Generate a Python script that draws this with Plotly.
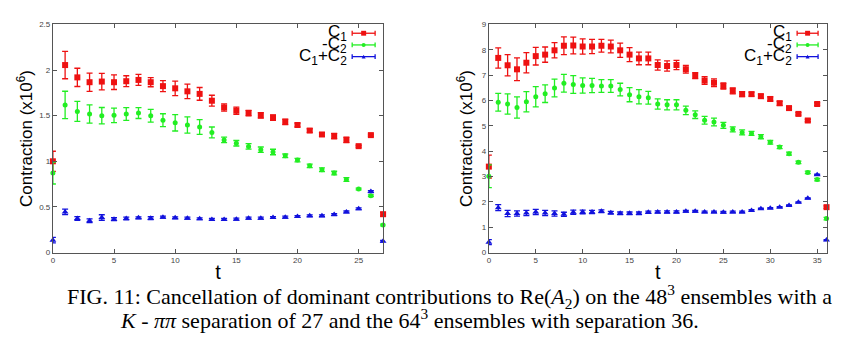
import plotly.graph_objects as go

# ---------------- data ----------------
t_left = list(range(28))
c1_left = [1.00, 2.055, 1.92, 1.867, 1.874, 1.867, 1.878, 1.892, 1.867, 1.824, 1.80, 1.767, 1.739, 1.664,
           1.59, 1.554, 1.529, 1.504, 1.479, 1.433, 1.398, 1.337, 1.294, 1.277, 1.234, 1.166, 1.287, 0.42]
c1_left_err = [0.11, 0.15, 0.10, 0.10, 0.09, 0.08, 0.06, 0.06, 0.05, 0.06, 0.08, 0.08, 0.07, 0.06,
               0.04, 0.04, 0.03, 0.03, 0.03, 0.03, 0.02, 0.02, 0.02, 0.03, 0.03, 0.01, 0.01, 0.02]
mc2_left = [0.871, 1.618, 1.547, 1.519, 1.50, 1.504, 1.519, 1.529, 1.50, 1.451, 1.422, 1.398, 1.376, 1.316,
            1.234, 1.198, 1.163, 1.127, 1.102, 1.06, 1.013, 0.95, 0.907, 0.871, 0.80, 0.697, 0.622, 0.302]
mc2_left_err = [0.12, 0.15, 0.11, 0.10, 0.09, 0.08, 0.07, 0.06, 0.07, 0.07, 0.09, 0.09, 0.08, 0.06,
                0.03, 0.03, 0.03, 0.03, 0.03, 0.02, 0.02, 0.02, 0.02, 0.02, 0.02, 0.01, 0.01, 0.01]
sum_left = [0.135, 0.445, 0.373, 0.349, 0.384, 0.366, 0.373, 0.38, 0.377, 0.388, 0.38, 0.377, 0.37, 0.363,
            0.363, 0.366, 0.377, 0.377, 0.384, 0.388, 0.395, 0.402, 0.402, 0.416, 0.445, 0.48, 0.668, 0.124]
sum_left_err = [0.03, 0.03, 0.02, 0.02, 0.03, 0.015, 0.015, 0.01, 0.015, 0.01, 0.01, 0.01, 0.01, 0.01,
                0.01, 0.01, 0.01, 0.01, 0.01, 0.01, 0.01, 0.01, 0.01, 0.01, 0.01, 0.01, 0.01, 0.01]

t_right = list(range(37))
c1_right = [3.39, 7.68, 7.39, 7.23, 7.49, 7.75, 7.81, 7.98, 8.16, 8.17, 8.13, 8.13, 8.16, 8.13, 7.98,
            7.81, 7.66, 7.66, 7.40, 7.36, 7.40, 7.23, 6.98, 6.79, 6.70, 6.57, 6.38, 6.25, 6.25, 6.17,
            6.06, 5.89, 5.70, 5.47, 5.21, 5.86, 1.79]
c1_right_err = [0.45, 0.40, 0.42, 0.45, 0.40, 0.35, 0.30, 0.30, 0.35, 0.33, 0.30, 0.28, 0.25, 0.25, 0.28,
                0.28, 0.25, 0.25, 0.20, 0.20, 0.18, 0.15, 0.12, 0.15, 0.15, 0.12, 0.12, 0.10, 0.08, 0.08,
                0.08, 0.08, 0.06, 0.05, 0.05, 0.05, 0.05]
mc2_right = [3.01, 5.93, 5.86, 5.72, 5.95, 6.15, 6.27, 6.49, 6.68, 6.63, 6.59, 6.59, 6.57, 6.57, 6.43,
             6.23, 6.15, 6.11, 5.86, 5.83, 5.83, 5.61, 5.44, 5.22, 5.15, 5.02, 4.86, 4.74, 4.70, 4.57,
             4.35, 4.16, 3.90, 3.56, 3.16, 2.88, 1.34]
mc2_right_err = [0.45, 0.35, 0.40, 0.42, 0.40, 0.40, 0.35, 0.35, 0.35, 0.35, 0.30, 0.28, 0.25, 0.25, 0.25,
                 0.28, 0.28, 0.25, 0.20, 0.20, 0.20, 0.17, 0.15, 0.15, 0.15, 0.12, 0.10, 0.10, 0.08, 0.08,
                 0.07, 0.06, 0.06, 0.05, 0.05, 0.05, 0.05]
sum_right = [0.41, 1.77, 1.54, 1.54, 1.56, 1.60, 1.56, 1.54, 1.51, 1.59, 1.60, 1.60, 1.63, 1.57, 1.55,
             1.55, 1.55, 1.59, 1.60, 1.60, 1.60, 1.63, 1.63, 1.60, 1.60, 1.59, 1.60, 1.60, 1.66, 1.73,
             1.75, 1.79, 1.86, 1.98, 2.14, 3.07, 0.49]
sum_right_err = [0.10, 0.12, 0.12, 0.10, 0.10, 0.10, 0.10, 0.10, 0.08, 0.08, 0.07, 0.06, 0.05, 0.05, 0.05,
                 0.05, 0.05, 0.04, 0.04, 0.04, 0.04, 0.03, 0.03, 0.03, 0.03, 0.03, 0.03, 0.03, 0.03, 0.02,
                 0.02, 0.02, 0.02, 0.02, 0.02, 0.02, 0.02]

series_names = ["C<sub>1</sub>", "-C<sub>2</sub>", "C<sub>1</sub>+C<sub>2</sub>"]
left_yticks = [0, 0.5, 1, 1.5, 2, 2.5]
right_yticks = [0, 1, 2, 3, 4, 5, 6, 7, 8, 9]
left_xticks = [0, 5, 10, 15, 20, 25]
right_xticks = [0, 5, 10, 15, 20, 25, 30, 35]
y_title = "Contraction (x10<sup>6</sup>)"
caption1 = "FIG. 11: Cancellation of dominant contributions to Re(<i>A</i><sub>2</sub>) on the 48<sup>3</sup> ensembles with a"
caption2 = "<i>K</i> - <i>ππ</i> separation of 27 and the 64<sup>3</sup> ensembles with separation 36."

# ---------------- style ----------------
W, H = 850, 354
colors = ["#ee1111", "#22ee22", "#1111dd"]
symbols = ["square", "circle", "triangle-up"]
sizes = [6, 5, 6]


def px(x):
    return x / W


def py(y):
    return 1 - y / H


fig = go.Figure()

panels = [
    dict(xa="x", ya="y", t=t_left, vals=[c1_left, mc2_left, sum_left],
         errs=[c1_left_err, mc2_left_err, sum_left_err]),
    dict(xa="x2", ya="y2", t=t_right, vals=[c1_right, mc2_right, sum_right],
         errs=[c1_right_err, mc2_right_err, sum_right_err]),
]

for p in panels:
    for i in range(3):
        fig.add_trace(go.Scatter(
            x=p["t"], y=p["vals"][i], xaxis=p["xa"], yaxis=p["ya"],
            mode="markers", showlegend=False, cliponaxis=False,
            marker=dict(symbol=symbols[i], size=sizes[i], color=colors[i]),
            error_y=dict(type="data", array=p["errs"][i], width=3, thickness=1.3, color=colors[i]),
        ))

axis_common = dict(showline=True, linecolor="#555", linewidth=1, mirror="ticks",
                   ticks="inside", ticklen=4, tickcolor="#555", showgrid=False, zeroline=False,
                   tickfont=dict(family="Liberation Sans", size=8, color="#444"))

ydom = [py(255), py(21)]
fig.update_layout(
    width=W, height=H, autosize=False,
    margin=dict(l=0, r=0, t=0, b=0),
    paper_bgcolor="white", plot_bgcolor="white",
    xaxis=dict(domain=[px(51), px(382)], range=[0, 27], tickvals=left_xticks, anchor="y",
               title=dict(text="t", font=dict(family="Liberation Sans", size=20, color="black"), standoff=0),
               **axis_common),
    yaxis=dict(domain=ydom, range=[0, 2.5], tickvals=left_yticks, anchor="x",
               title=dict(text=y_title, font=dict(family="Liberation Sans", size=17, color="black"), standoff=2),
               **axis_common),
    xaxis2=dict(domain=[px(488), px(826.5)], range=[0, 36], tickvals=right_xticks, anchor="y2",
                title=dict(text="t", font=dict(family="Liberation Sans", size=20, color="black"), standoff=0),
                **axis_common),
    yaxis2=dict(domain=ydom, range=[0, 9], tickvals=right_yticks, anchor="x2",
                title=dict(text=y_title, font=dict(family="Liberation Sans", size=17, color="black"), standoff=4),
                **axis_common),
)

# ---------------- legends (gnuplot style: text left of sample) ----------------
shapes = []
annotations = []
legend_rows = [30, 42, 54]
for (text_right, line_x0, line_x1) in [(348, 351, 374), (794, 797, 818)]:
    for i in range(3):
        y = legend_rows[i]
        annotations.append(dict(
            x=px(text_right), y=py(y), xref="paper", yref="paper", xanchor="right", yanchor="middle",
            text=series_names[i], showarrow=False,
            font=dict(family="Liberation Sans", size=17, color="black")))
        lc = dict(color=colors[i], width=1.3)
        shapes.append(dict(type="line", xref="paper", yref="paper",
                           x0=px(line_x0), x1=px(line_x1), y0=py(y), y1=py(y), line=lc))
        for xe in (line_x0, line_x1):
            shapes.append(dict(type="line", xref="paper", yref="paper",
                               x0=px(xe), x1=px(xe), y0=py(y - 2.5), y1=py(y + 2.5), line=lc))
        xm = (line_x0 + line_x1) / 2
        r = 2.5 if i == 0 else 2
        if i == 0:
            shapes.append(dict(type="rect", xref="paper", yref="paper",
                               x0=px(xm - r), x1=px(xm + r), y0=py(y - r), y1=py(y + r),
                               fillcolor=colors[i], line=dict(width=0)))
        elif i == 1:
            shapes.append(dict(type="circle", xref="paper", yref="paper",
                               x0=px(xm - r), x1=px(xm + r), y0=py(y - r), y1=py(y + r),
                               fillcolor=colors[i], line=dict(width=0)))
        else:
            path = "M {} {} L {} {} L {} {} Z".format(px(xm - r), py(y + r), px(xm + r), py(y + r), px(xm), py(y - r))
            shapes.append(dict(type="path", xref="paper", yref="paper", path=path,
                               fillcolor=colors[i], line=dict(width=0)))

# ---------------- caption ----------------
annotations.append(dict(x=px(63), y=py(300), xref="paper", yref="paper", xanchor="left", yanchor="middle",
                        text=caption1, showarrow=False,
                        font=dict(family="Liberation Serif", size=22, color="black")))
annotations.append(dict(x=px(116), y=py(323), xref="paper", yref="paper", xanchor="left", yanchor="middle",
                        text=caption2, showarrow=False,
                        font=dict(family="Liberation Serif", size=22, color="black")))

fig.update_layout(shapes=shapes, annotations=annotations)
fig.write_html("out.html")
